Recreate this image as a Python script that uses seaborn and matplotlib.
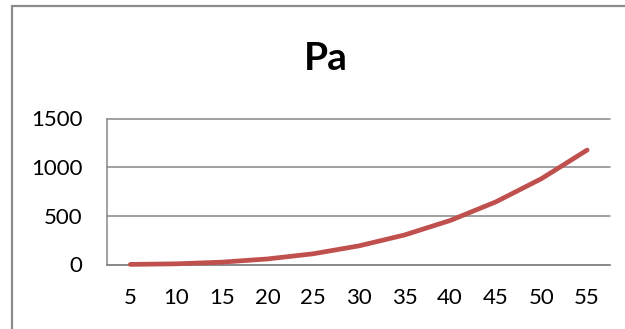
import numpy as np
import pandas as pd
import matplotlib
matplotlib.use("Agg")
import matplotlib.pyplot as plt
import seaborn as sns
from matplotlib.patches import Rectangle

# Pressure (Pa) by category
categories = ["5", "10", "15", "20", "25", "30", "35", "40", "45", "50", "55"]
pa_values = [1, 7, 24, 57, 110, 191, 303, 452, 643, 882, 1176]
y_ticks = [0, 500, 1000, 1500]

GRAY = "#868686"
RED = "#C0504D"

sns.set_theme(style="white")
plt.rcParams["font.family"] = ["Lato", "DejaVu Sans"]

W, H = 625, 329
fig = plt.figure(figsize=(W / 100, H / 100), dpi=100)
fig.patch.set_facecolor("white")

# chart frame (runs past the right and bottom edges)
fig.patches.append(Rectangle((11.5 / W, -0.2), 1.2, 1.2 - 5.5 / H,
                             transform=fig.transFigure, fill=False,
                             edgecolor="#8C8C8C", lw=1.6, zorder=0))

ax = fig.add_axes([107.5 / W, 1 - 264.5 / H, (610 - 107.5) / W, (264.5 - 118.5) / H])
ax.set_facecolor("none")

df = pd.DataFrame({"pos": np.arange(len(categories)), "Pa": pa_values})
sns.lineplot(data=df, x="pos", y="Pa", color=RED, lw=3.4, ax=ax,
             solid_capstyle="round", solid_joinstyle="round")
for ln in ax.lines:
    ln.set_clip_on(False)
    ln.set_zorder(5)

ax.set_xlim(-0.5, len(categories) - 0.5)
ax.set_ylim(0, y_ticks[-1])
ax.set_yticks(y_ticks)
ax.set_yticklabels([str(t) for t in y_ticks])
ax.yaxis.grid(True, color=GRAY, lw=1.1)
for gl in ax.get_ygridlines():
    gl.set_clip_on(False)
ax.set_axisbelow(True)

# category boundaries as ticks, labels centred on each category
ax.set_xticks(np.arange(len(categories) + 1) - 0.5)
ax.set_xticklabels([])
ax.set_xticks(np.arange(len(categories)), minor=True)
ax.set_xticklabels(categories, minor=True)
ax.tick_params(axis="x", which="major", length=6, width=1.1, color=GRAY, direction="out")
ax.tick_params(axis="x", which="minor", length=0, pad=17, labelsize=16, labelcolor="black")
ax.tick_params(axis="y", length=5, width=1.1, color=GRAY, direction="out", pad=13,
               labelsize=16, labelcolor="black")

for side in ["top", "right"]:
    ax.spines[side].set_visible(False)
for side in ["left", "bottom"]:
    ax.spines[side].set_color(GRAY)
    ax.spines[side].set_linewidth(1.1)

ax.set_xlabel("")
ax.set_ylabel("")

fig.text(326 / W, 1 - 58 / H, "Pa", ha="center", va="center",
         fontsize=28, fontweight="bold", color="black")

fig.savefig("out.png", dpi=100)
